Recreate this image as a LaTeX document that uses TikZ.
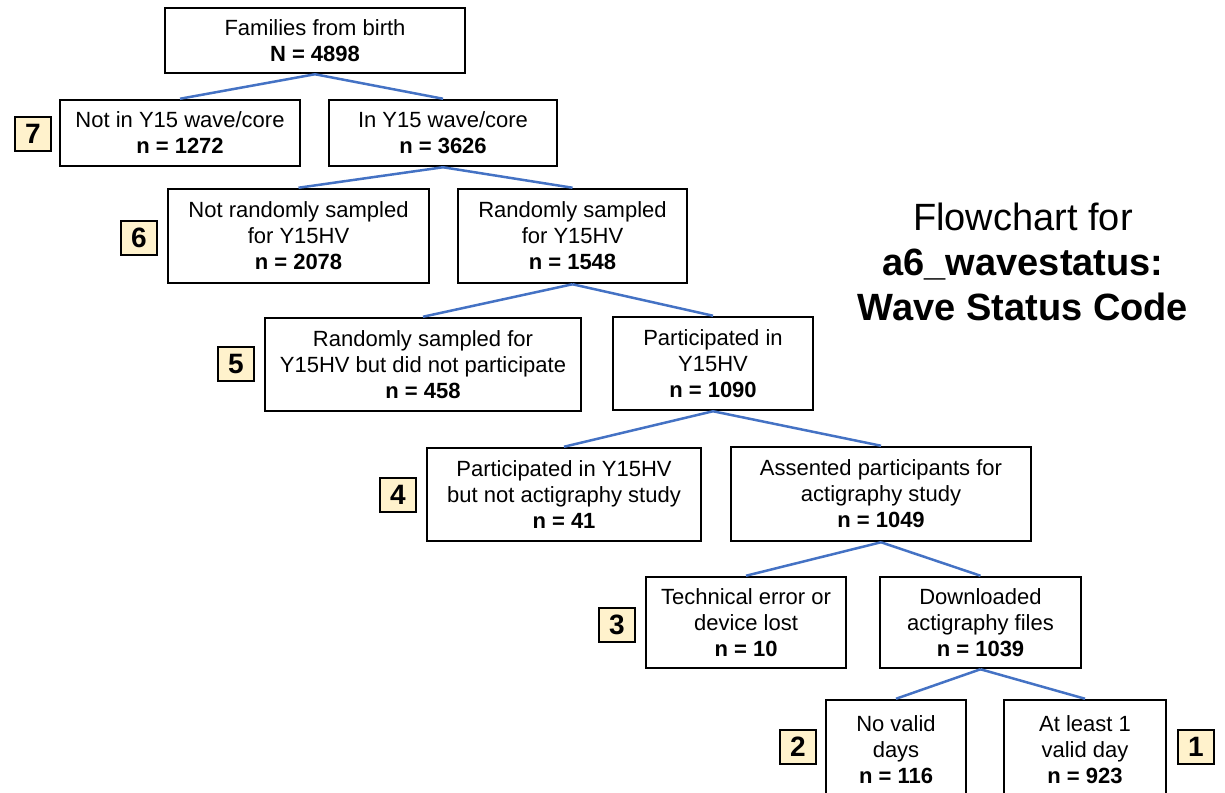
\documentclass[tikz,border=0pt]{standalone}
\usepackage{fontspec}
\setmainfont{Liberation Sans}
\usepackage{xcolor}
\usetikzlibrary{positioning}
\definecolor{linkblue}{RGB}{68,114,196}
\definecolor{badgecream}{RGB}{255,242,204}

\begin{document}
\begin{tikzpicture}[x=0.5pt,y=-0.5pt,font=\fontsize{11}{13}\selectfont,
  box/.style={draw,line width=1.25pt,inner sep=0pt,align=center},
  num/.style={draw,line width=1.25pt,fill=badgecream,inner sep=0pt,minimum width=18pt,minimum height=17pt,font=\fontsize{14}{16}\selectfont\bfseries},
  link/.style={draw=linkblue,line width=1.25pt}]
\useasboundingbox (0,0) rectangle (1225,792);
\clip (0,0) rectangle (1225,792);
% tree of boxes
\node[box,minimum width=150pt,minimum height=32.5pt] (fam) at (315,40.5) {Families from birth\\\textbf{N = 4898}};
\node[box,minimum width=120pt,minimum height=33pt] (notin) at (180,133) {Not in Y15 wave/core\\\textbf{n = 1272}};
\node[box,minimum width=114pt,minimum height=33pt] (inwave) at (443,133) {In Y15 wave/core\\\textbf{n = 3626}};
\node[box,minimum width=130.5pt,minimum height=47pt] (notrand) at (298.5,236) {Not randomly sampled\\for Y15HV\\\textbf{n = 2078}};
\node[box,minimum width=114.5pt,minimum height=47pt] (rand) at (572.5,236) {Randomly sampled\\for Y15HV\\\textbf{n = 1548}};
\node[box,minimum width=158pt,minimum height=46.5pt] (nopart) at (423,364.5) {Randomly sampled for\\Y15HV but did not participate\\\textbf{n = 458}};
\node[box,minimum width=100pt,minimum height=46.5pt] (part) at (713,363.5) {Participated in\\Y15HV\\\textbf{n = 1090}};
\node[box,minimum width=137pt,minimum height=46.5pt] (noact) at (564,494.5) {Participated in Y15HV\\but not actigraphy study\\\textbf{n = 41}};
\node[box,minimum width=150pt,minimum height=47pt] (assent) at (881,494) {Assented participants for\\actigraphy study\\\textbf{n = 1049}};
\node[box,minimum width=100pt,minimum height=45.5pt] (tech) at (746,622.5) {Technical error or\\device lost\\\textbf{n = 10}};
\node[box,minimum width=100.5pt,minimum height=45.5pt] (down) at (980.5,622.5) {Downloaded\\actigraphy files\\\textbf{n = 1039}};
\node[box,minimum width=70pt,minimum height=50pt] (novalid) at (896,750) {No valid\\days\\\textbf{n = 116}};
\node[box,minimum width=81pt,minimum height=50pt] (valid) at (1085,750) {At least 1\\valid day\\\textbf{n = 923}};
% status codes
\node[num] (c7) at (33,134) {7};
\node[num] (c6) at (139,238) {6};
\node[num] (c5) at (236,364) {5};
\node[num] (c4) at (398,495) {4};
\node[num] (c3) at (617,625) {3};
\node[num] (c2) at (798,747) {2};
\node[num] (c1) at (1196,747) {1};
% title
\node[align=center,font=\fontsize{19}{22.5}\selectfont] (title) at (1023,262) {Flowchart for\\\textbf{a6\_wavestatus:}\\\textbf{Wave Status Code}};
% branches
\draw[link] (fam.south) -- (notin.north);
\draw[link] (fam.south) -- (inwave.north);
\draw[link] (inwave.south) -- (notrand.north);
\draw[link] (inwave.south) -- (rand.north);
\draw[link] (rand.south) -- (nopart.north);
\draw[link] (rand.south) -- (part.north);
\draw[link] (part.south) -- (noact.north);
\draw[link] (part.south) -- (assent.north);
\draw[link] (assent.south) -- (tech.north);
\draw[link] (assent.south) -- (down.north);
\draw[link] (down.south) -- (novalid.north);
\draw[link] (down.south) -- (valid.north);
\end{tikzpicture}
\end{document}
